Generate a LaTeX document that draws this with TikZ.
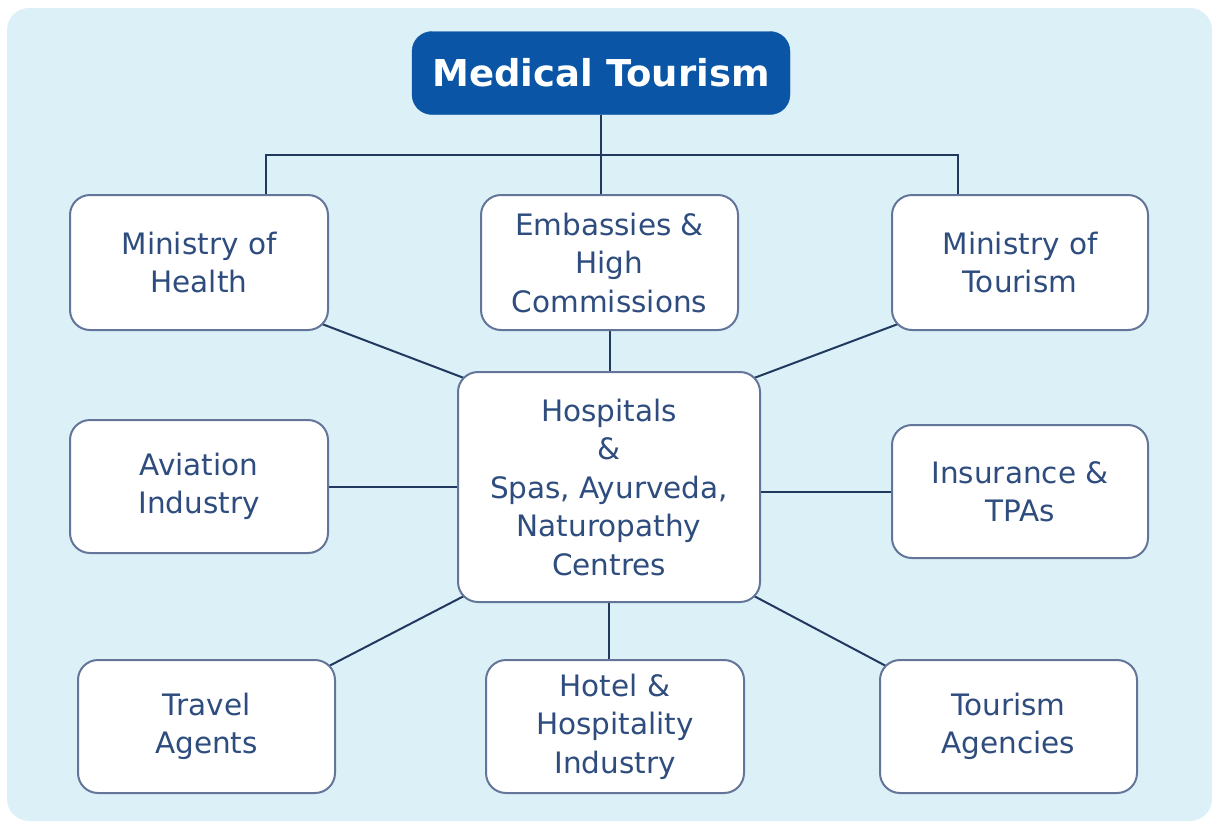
\documentclass[tikz,border=0pt]{standalone}
\usepackage{fontspec}
\setmainfont{DejaVu Sans}
\usetikzlibrary{calc}
\pgfdeclarelayer{panel}
\pgfdeclarelayer{lines}
\pgfsetlayers{panel,lines,main}
\definecolor{txtc}{HTML}{2E4D7E}
\definecolor{bordc}{HTML}{63769A}
\definecolor{linec}{HTML}{21395E}
\definecolor{titlec}{HTML}{0B55A6}
\definecolor{panelc}{HTML}{DCF0F8}
\begin{document}
\begin{tikzpicture}[x=1pt,y=-1pt,
  box/.style={draw=bordc, line width=2pt, fill=white, rounded corners=20pt,
    minimum width=258pt, minimum height=135pt, align=center, text=txtc,
    font=\fontsize{29.5}{38.5}\selectfont, inner sep=0pt},
  titlebox/.style={fill=titlec, draw=titlec, rounded corners=20pt,
    minimum width=378pt, minimum height=83pt, text=white,
    font=\fontsize{37}{40}\selectfont\bfseries, inner sep=0pt},
  conn/.style={draw=linec, line width=2pt}]
\useasboundingbox (0,0) rectangle (1214,823);
\begin{pgfonlayer}{panel}
  \fill[panelc, rounded corners=22pt] (7,8) rectangle (1212,821);
\end{pgfonlayer}
\node[titlebox] (mt) at (601,73) {Medical Tourism};
\node[box] (moh) at (199,262.5) {Ministry of\\Health};
\node[box, minimum width=257pt] (emb) at (609.5,262.5) {Embassies \&\\High\\Commissions};
\node[box, minimum width=256pt] (mot) at (1020,262.5) {Ministry of\\Tourism};
\node[box, minimum width=302pt, minimum height=230pt] (hosp) at (609,487) {Hospitals\\\&\\Spas, Ayurveda,\\Naturopathy\\Centres};
\node[box, minimum height=133pt] (avi) at (199,486.5) {Aviation\\Industry};
\node[box, minimum width=256pt, minimum height=133pt] (ins) at (1020,491.5) {Insurance \&\\TPAs};
\node[box, minimum width=257pt, minimum height=133pt] (trav) at (206.5,726.5) {Travel\\Agents};
\node[box, minimum height=133pt] (hotel) at (615,726.5) {Hotel \&\\Hospitality\\Industry};
\node[box, minimum width=257pt, minimum height=133pt] (tour) at (1008.5,726.5) {Tourism\\Agencies};
\coordinate (hl) at (266,155);
\coordinate (hr) at (958,155);
\begin{pgfonlayer}{lines}
  \draw[conn] (mt.south) -- (mt.south |- emb.north);
  \draw[conn] (hl |- moh.north) -- (hl) -- (hr) -- (hr |- mot.north);
  \draw[conn] (emb.south) -- (emb.south |- hosp.north);
  \draw[conn] (hosp.south) -- (hosp.south |- hotel.north);
  \draw[conn] (avi.east) -- (avi.east -| hosp.west);
  \draw[conn] (ins.west) -- (ins.west -| hosp.east);
  \draw[conn] ([shift={(-7,-7)}]moh.south east) -- ([shift={(7,7)}]hosp.north west);
  \draw[conn] ([shift={(7,-7)}]mot.south west) -- ([shift={(-7,7)}]hosp.north east);
  \draw[conn] ([shift={(-7,7)}]trav.north east) -- ([shift={(7,-7)}]hosp.south west);
  \draw[conn] ([shift={(7,7)}]tour.north west) -- ([shift={(-7,-7)}]hosp.south east);
\end{pgfonlayer}
\end{tikzpicture}
\end{document}
